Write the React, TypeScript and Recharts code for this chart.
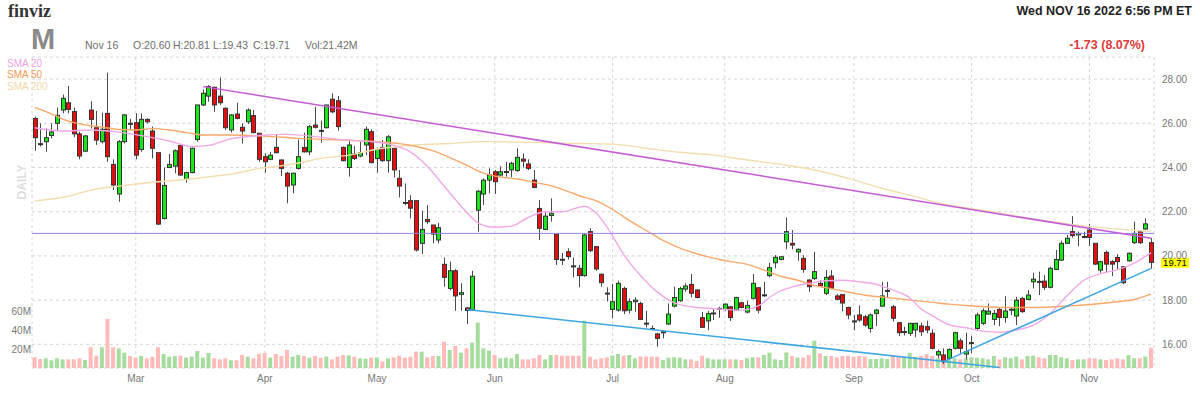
import React from "react";
import { ComposedChart, Bar, Line, XAxis, YAxis, CartesianGrid, ReferenceLine } from "recharts";

// trading days shown, Feb 2 .. Nov 16 2022
const monthDays: [string, number[]][] = [
  ["Feb", [2, 3, 4, 7, 8, 9, 10, 11, 14, 15, 16, 17, 18, 22, 23, 24, 25, 28]],
  ["Mar", [1, 2, 3, 4, 7, 8, 9, 10, 11, 14, 15, 16, 17, 18, 21, 22, 23, 24, 25, 28, 29, 30, 31]],
  ["Apr", [1, 4, 5, 6, 7, 8, 11, 12, 13, 14, 18, 19, 20, 21, 22, 25, 26, 27, 28, 29]],
  ["May", [2, 3, 4, 5, 6, 9, 10, 11, 12, 13, 16, 17, 18, 19, 20, 23, 24, 25, 26, 27, 31]],
  ["Jun", [1, 2, 3, 6, 7, 8, 9, 10, 13, 14, 15, 16, 17, 21, 22, 23, 24, 27, 28, 29, 30]],
  ["Jul", [1, 5, 6, 7, 8, 11, 12, 13, 14, 15, 18, 19, 20, 21, 22, 25, 26, 27, 28, 29]],
  ["Aug", [1, 2, 3, 4, 5, 8, 9, 10, 11, 12, 15, 16, 17, 18, 19, 22, 23, 24, 25, 26, 29, 30, 31]],
  ["Sep", [1, 2, 6, 7, 8, 9, 12, 13, 14, 15, 16, 19, 20, 21, 22, 23, 26, 27, 28, 29, 30]],
  ["Oct", [3, 4, 5, 6, 7, 10, 11, 12, 13, 14, 17, 18, 19, 20, 21, 24, 25, 26, 27, 28, 31]],
  ["Nov", [1, 2, 3, 4, 7, 8, 9, 10, 11, 14, 15, 16]],
];

const open = [
  26.22, 25.08, 25.17, 25.45, 26.0, 26.6, 26.93, 26.53, 25.52, 24.74, 26.6, 25.8, 25.17, 26.45, 24.14, 22.8, 25.17, 26.0,
  26.03, 24.82, 26.18, 25.65, 24.67, 21.69, 24.0, 24.06, 24.99, 23.46, 23.77, 25.27, 26.83, 27.23, 27.63, 27.23, 26.68, 25.7, 26.42, 25.82, 26.07, 26.35, 25.55,
  24.49, 24.37, 24.91, 24.34, 23.74, 23.21, 23.96, 24.91, 24.71, 25.92, 25.68, 25.8, 27.09, 27.02, 24.91, 24.0, 24.61, 24.52, 25.02, 25.62,
  24.41, 24.91, 24.31, 24.87, 23.51, 22.42, 22.5, 22.5, 20.57, 21.65, 21.4, 20.72, 19.62, 18.53, 19.33, 18.26, 17.65, 17.56, 22.07, 22.8, 23.43,
  23.81, 23.66, 23.8, 23.89, 23.86, 24.38, 24.16, 23.43, 22.15, 21.2, 21.83, 20.99, 19.85, 20.19, 19.55, 19.44, 19.11, 21.1, 20.42, 19.17, 18.32,
  17.58, 17.55, 18.53, 17.55, 17.93, 17.85, 16.96, 16.72, 16.47, 16.55, 16.92, 17.73, 17.97, 18.5, 18.71, 18.46, 17.21, 17.06, 17.4, 17.6,
  17.58, 17.7, 17.55, 17.88, 17.46, 18.08, 18.56, 18.22, 19.11, 19.69, 19.84, 20.64, 20.57, 20.18, 19.89, 18.91, 18.98, 18.76, 18.31, 19.09, 18.19, 18.25, 17.67,
  17.06, 17.33, 17.25, 16.72, 17.4, 17.73, 18.42, 17.7, 16.98, 16.55, 16.5, 16.65, 16.83, 16.8, 16.5, 15.52, 15.52, 15.37, 15.82, 16.16, 15.56,
  16.05, 16.72, 16.95, 17.37, 17.13, 17.58, 17.22, 17.57, 17.28, 18.08, 18.03, 18.83, 18.85, 18.86, 18.58, 19.39, 19.81, 20.57, 21.1, 20.95, 20.87,
  21.17, 20.57, 19.36, 20.16, 19.74, 19.93, 19.51, 19.78, 20.6, 21.1, 21.22, 20.6,
];
const high = [
  26.3, 26.0, 25.77, 26.0, 26.71, 27.3, 27.69, 26.71, 25.62, 25.47, 27.0, 26.56, 26.48, 28.29, 24.37, 25.24, 26.42, 26.2,
  26.45, 26.45, 26.22, 25.85, 24.67, 24.0, 24.61, 24.82, 25.06, 23.81, 24.91, 26.83, 27.54, 27.73, 27.66, 28.07, 26.72, 26.42, 26.93, 26.0, 26.68, 26.6, 25.55,
  24.64, 24.71, 25.52, 24.37, 23.81, 23.77, 25.27, 25.58, 25.92, 26.75, 26.12, 26.83, 27.36, 27.23, 24.95, 25.27, 24.97, 25.17, 25.85, 25.73,
  24.87, 25.24, 25.47, 24.91, 23.89, 23.28, 22.75, 22.5, 22.05, 22.3, 21.4, 21.5, 19.93, 19.74, 19.4, 18.76, 17.68, 19.33, 22.98, 23.51, 23.96,
  23.89, 24.06, 24.26, 24.26, 24.87, 24.64, 24.37, 23.89, 22.53, 22.0, 22.6, 21.02, 20.13, 20.34, 19.93, 19.59, 21.02, 21.25, 20.45, 19.21, 18.58,
  18.73, 18.88, 18.61, 18.08, 18.13, 17.93, 17.52, 16.85, 16.52, 16.63, 17.85, 18.61, 18.61, 18.76, 19.18, 18.49, 17.46, 17.52, 17.61, 17.7,
  17.85, 17.73, 18.15, 17.93, 17.97, 19.18, 18.58, 18.83, 19.69, 20.04, 19.99, 21.74, 21.17, 20.34, 20.04, 18.94, 20.19, 18.91, 19.36, 19.36, 18.28, 18.28, 17.7,
  17.33, 17.76, 17.33, 17.4, 17.61, 18.83, 18.83, 17.78, 17.01, 16.8, 16.98, 16.98, 16.98, 17.07, 16.68, 15.77, 15.82, 15.82, 16.57, 16.27, 16.53,
  16.38, 17.43, 17.63, 17.85, 17.55, 17.67, 18.18, 17.67, 18.15, 18.15, 18.46, 19.24, 19.29, 19.14, 19.51, 20.27, 20.69, 20.95, 21.8, 21.1, 21.1,
  21.45, 20.57, 19.78, 20.24, 19.81, 20.08, 19.54, 20.16, 21.55, 21.12, 21.7, 20.81,
];
const low = [
  24.76, 24.95, 24.71, 25.32, 25.67, 26.45, 26.45, 25.37, 24.37, 24.71, 25.77, 25.02, 25.09, 24.26, 22.98, 22.45, 25.09, 25.7,
  24.37, 24.71, 26.0, 24.41, 21.4, 21.65, 24.0, 23.74, 23.61, 23.31, 23.74, 25.17, 26.78, 26.98, 26.52, 26.83, 25.7, 25.58, 26.18, 25.09, 25.97, 25.55, 24.26,
  23.77, 24.34, 24.64, 23.61, 22.38, 22.83, 23.9, 24.68, 24.56, 25.77, 25.12, 25.77, 26.45, 25.67, 24.28, 23.59, 24.34, 24.46, 24.56, 24.19,
  23.77, 24.26, 23.77, 23.55, 22.65, 22.3, 21.7, 20.2, 20.09, 21.44, 20.57, 20.57, 18.61, 18.45, 17.52, 17.52, 16.92, 17.53, 21.1, 22.3, 22.83,
  22.8, 23.59, 23.59, 23.56, 23.81, 24.0, 23.88, 23.06, 20.72, 21.17, 21.55, 19.59, 19.59, 19.84, 19.03, 18.58, 19.06, 20.18, 19.33, 18.61, 17.94,
  17.18, 17.48, 17.37, 17.4, 17.48, 17.1, 16.77, 16.63, 15.89, 16.27, 16.87, 17.67, 17.93, 18.38, 18.12, 18.08, 16.75, 16.64, 17.1, 17.2,
  17.52, 17.06, 17.52, 17.63, 17.4, 18.03, 17.4, 18.15, 19.03, 19.44, 19.81, 20.3, 20.3, 19.78, 19.24, 18.38, 18.91, 18.61, 18.23, 18.49, 18.0, 17.49, 17.13,
  16.64, 17.03, 16.8, 16.53, 16.83, 17.7, 18.13, 17.03, 16.37, 16.4, 16.38, 16.32, 16.38, 16.5, 15.77, 15.37, 15.11, 15.32, 15.77, 15.59, 15.32,
  15.6, 16.62, 16.87, 17.33, 16.87, 16.82, 16.98, 17.33, 16.87, 17.43, 18.0, 18.53, 18.23, 18.46, 18.53, 19.36, 19.78, 20.54, 20.83, 20.44, 20.8,
  20.45, 19.59, 19.24, 19.24, 19.09, 19.36, 18.73, 19.74, 20.54, 20.54, 21.17, 19.43,
];
const close = [
  25.35, 25.05, 25.35, 25.61, 26.36, 27.13, 26.63, 25.52, 24.52, 25.43, 26.18, 25.24, 25.73, 24.49, 23.21, 25.17, 26.38, 25.98,
  24.56, 26.18, 26.07, 24.87, 21.44, 23.19, 24.14, 24.76, 23.66, 23.77, 24.87, 26.83, 27.36, 27.66, 26.83, 26.93, 25.8, 26.38, 26.22, 25.65, 26.6, 25.58, 24.37,
  24.26, 24.56, 24.67, 23.96, 23.16, 23.74, 24.49, 24.71, 25.85, 25.82, 25.67, 26.83, 26.52, 25.85, 24.31, 25.02, 24.41, 24.67, 25.73, 24.22,
  24.82, 24.31, 25.39, 23.89, 23.16, 22.4, 22.16, 20.27, 21.2, 21.55, 20.99, 21.28, 19.03, 19.33, 18.19, 18.34, 17.53, 19.08, 22.93, 23.43, 23.66,
  23.36, 23.81, 23.82, 24.19, 24.46, 24.29, 23.96, 23.1, 21.25, 21.8, 21.93, 19.84, 19.82, 19.97, 19.53, 19.11, 20.95, 20.24, 19.41, 18.79, 18.3,
  17.93, 18.76, 17.52, 17.93, 18.0, 17.13, 16.94, 16.7, 16.27, 16.57, 17.37, 18.12, 18.52, 18.64, 18.31, 18.12, 16.77, 17.39, 17.42, 17.63,
  17.82, 17.21, 18.12, 17.67, 17.76, 18.76, 17.55, 18.24, 19.47, 19.94, 19.96, 21.1, 20.49, 20.3, 19.39, 18.61, 19.29, 18.64, 19.03, 18.53, 18.04, 17.87, 17.33,
  17.04, 17.1, 16.87, 17.33, 17.55, 18.19, 18.44, 17.18, 16.53, 16.58, 16.95, 16.95, 16.57, 16.65, 15.82, 15.67, 15.21, 15.77, 16.53, 15.82, 15.67,
  16.08, 17.33, 17.52, 17.5, 17.4, 17.22, 17.51, 17.59, 18.0, 17.48, 18.23, 18.95, 18.83, 18.58, 19.44, 19.84, 20.57, 20.8, 20.92, 21.02, 20.88,
  20.84, 19.63, 19.74, 19.63, 19.63, 19.74, 18.79, 20.12, 21.02, 20.6, 21.45, 19.71,
];
// volume, millions of shares
const volume = [
  11.3, 9.5, 10.2, 8.1, 10.2, 9.1, 9.1, 9.1, 10.2, 8.4, 21.8, 13, 21.8, 51.7, 21.8, 20.7, 16.2, 12.7,
  10.9, 12.7, 10.2, 12, 21.8, 14.8, 12, 12.7, 13, 10.9, 12, 17.9, 10.9, 15.8, 10.2, 9.1, 10.2, 8.1, 8.1, 13.7, 12, 10.2, 14.8,
  15.8, 10.9, 14.8, 12.7, 19, 12, 13.7, 12.7, 10.9, 12.7, 10.9, 12, 9.1, 12, 13.7, 13.4, 12, 10.2, 9.8, 10.9,
  10.9, 7, 10.2, 11.3, 13, 10.9, 12, 17.2, 17.2, 11.3, 12.7, 12.7, 27.8, 19, 23.2, 16.2, 20.7, 26.7, 47.8, 20.7, 18.3,
  13.7, 10.2, 10.9, 10.2, 14.8, 9.1, 9.1, 10.2, 13.7, 9.1, 13.7, 13.7, 13, 13, 13, 13, 50, 12, 9.1, 10.2, 11.3,
  13, 14.8, 13, 13.7, 10.2, 12, 12, 12, 12, 8.4, 10.9, 11.3, 10.9, 9.1, 9.1, 7.4, 13, 10.2, 9.1, 9.1,
  9.1, 9.1, 9.1, 8.4, 10.2, 11.3, 11.3, 13.7, 16.2, 9.1, 8.4, 16.5, 12.7, 10.9, 10.9, 13.7, 28.8, 15.5, 12.7, 12.7, 11.3, 12.7, 13,
  12, 12.7, 12, 9.5, 9.5, 10.2, 9.5, 12.7, 11.3, 11.3, 16.2, 12, 12.7, 14.8, 12.7, 10.2, 11.3, 9.1, 10.2, 9.1, 10.2,
  11.3, 10.9, 10.2, 9.1, 12.7, 9.1, 11.3, 10.2, 12, 9.1, 12.7, 13, 11.3, 10.2, 13.7, 13.7, 11.3, 10.2, 8.4, 9.1, 9.1,
  10.2, 10.2, 9.1, 8.4, 9.1, 10.2, 9.1, 13.7, 10.2, 10.2, 12, 21.42,
];

// moving averages: [candle index, value]
const sma20: [number, number][] = [
  [0, 25.8], [5, 25.65], [10, 25.7], [15, 25.6], [20, 25.4], [24, 25.2], [28, 24.95], [31, 25.0], [35, 25.3], [40, 25.45],
  [45, 25.5], [50, 25.4], [55, 25.25], [60, 25.17], [64, 25.0], [67, 24.7], [70, 24.05], [73, 23.15], [76, 22.25], [79, 21.5],
  [82, 21.3], [85, 21.35], [88, 21.75], [91, 22.0], [94, 22.0], [97, 22.2], [98, 22.25], [100, 21.95], [102, 21.3], [105, 20.05],
  [108, 19.1], [111, 18.35], [114, 17.88], [117, 17.7], [120, 17.63], [123, 17.58], [126, 17.55], [129, 17.75], [132, 18.3],
  [135, 18.6], [138, 18.76], [141, 18.88], [144, 18.9], [147, 18.83], [150, 18.72], [153, 18.45], [156, 18.1], [158, 17.6],
  [160, 17.3], [163, 16.88], [166, 16.75], [169, 16.6], [172, 16.55], [175, 16.65], [178, 16.87], [181, 17.4], [184, 18.2],
  [187, 18.9], [190, 19.2], [193, 19.38], [196, 19.68], [199, 20.15],
];
const sma50: [number, number][] = [
  [0, 26.72], [3, 26.42], [6, 26.1], [9, 25.93], [12, 25.83], [15, 25.72], [18, 25.7], [21, 25.76], [24, 25.7], [27, 25.58],
  [30, 25.47], [35, 25.47], [41, 25.42], [47, 25.32], [52, 25.27], [57, 25.22], [62, 25.15], [65, 25.08], [68, 24.95], [71, 24.75],
  [74, 24.45], [77, 24.1], [80, 23.75], [83, 23.57], [86, 23.48], [89, 23.33], [92, 23.18], [95, 22.92], [98, 22.65], [100, 22.5],
  [103, 22.1], [106, 21.6], [109, 21.15], [112, 20.7], [115, 20.35], [118, 20.1], [121, 19.9], [124, 19.74], [127, 19.62],
  [130, 19.36], [133, 19.08], [136, 18.9], [139, 18.66], [142, 18.52], [145, 18.37], [148, 18.22], [151, 18.14], [154, 18.06],
  [157, 17.98], [160, 17.9], [163, 17.82], [166, 17.76], [172, 17.67], [178, 17.67], [184, 17.73], [187, 17.78], [190, 17.85],
  [193, 17.93], [196, 18.03], [199, 18.27],
];
const sma200: [number, number][] = [
  [0, 22.49], [6, 22.7], [10, 22.98], [15, 23.16], [19, 23.28], [24, 23.4], [27, 23.46], [32, 23.61], [35, 23.7], [40, 23.96],
  [44, 24.08], [48, 24.25], [50, 24.37], [56, 24.56], [62, 24.87], [68, 25.02], [74, 25.09], [80, 25.17], [86, 25.15], [92, 25.12],
  [97, 25.09], [103, 25.06], [109, 24.87], [115, 24.69], [121, 24.56], [127, 24.34], [133, 24.14], [139, 23.89], [145, 23.51],
  [151, 23.06], [157, 22.68], [161, 22.41], [170, 22.02], [180, 21.6], [190, 21.28], [195, 21.18], [199, 21.1],
];

// drawn trend lines: [candle index, price] pairs
const trendLines: { from: [number, number]; to: [number, number]; color: string }[] = [
  { from: [30, 27.66], to: [199, 20.8], color: "#c65bd6" },
  { from: [77, 17.58], to: [172, 14.95], color: "#3ea6e3" },
  { from: [162, 15.22], to: [199, 19.44], color: "#3ea6e3" },
];
const levelLine = 21.02;
const lastPrice = 19.71;
const priceTicks = [16, 18, 20, 22, 24, 26, 28];
const volTicks = [20, 40, 60];

const FONT = "'Liberation Sans', Arial, sans-serif";

const dates = monthDays.flatMap(([m, ds]) => ds.map((d) => `${m} ${d}`));
const monthStarts = monthDays.slice(1).map(([m, ds]) => `${m} ${ds[0]}`);
const m20 = new Map(sma20);
const m50 = new Map(sma50);
const m200 = new Map(sma200);

const data = dates.map((d, i) => ({
  d,
  o: open[i],
  h: high[i],
  l: low[i],
  c: close[i],
  range: [low[i], high[i]],
  v: volume[i],
  s20: m20.get(i) ?? null,
  s50: m50.get(i) ?? null,
  s200: m200.get(i) ?? null,
}));

function Candle(props: any) {
  const { x, y, width, height, payload } = props;
  if (x == null || !payload) return null;
  const top = Math.min(y, y + height);
  const span = Math.abs(height);
  const { o, h, l, c } = payload;
  const py = (v: number) => top + ((h - v) / (h - l || 1)) * span;
  const cx = Math.round(x + width / 2) + 0.5;
  const bTop = py(Math.max(o, c));
  const bBot = py(Math.min(o, c));
  return (
    <g>
      <line x1={cx} x2={cx} y1={top} y2={top + span} stroke="#4a4a4a" strokeWidth={1} />
      <rect
        x={cx - 2}
        y={bTop}
        width={4}
        height={Math.max(bBot - bTop, 1)}
        fill={c >= o ? "#19e619" : "#ea0d0d"}
        stroke="#333"
        strokeWidth={1}
      />
    </g>
  );
}

function VolBar(props: any) {
  const { x, y, width, height, payload } = props;
  if (x == null || !payload) return null;
  return <rect x={x} y={y} width={width} height={height} fill={payload.c >= payload.o ? "#a6dc9e" : "#ffbaba"} />;
}

function MonthTick(props: any) {
  const { x, payload } = props;
  return (
    <text x={x} y={382} textAnchor="middle" fontSize={10} fill="#777" fontFamily={FONT}>
      {String(payload.value).split(" ")[0]}
    </text>
  );
}

function PriceTag(props: any) {
  const vb = props.viewBox;
  if (!vb) return null;
  const x = vb.x + vb.width + 7;
  return (
    <g>
      <rect x={x} y={vb.y - 4.5} width={28} height={10} fill="#ffff00" />
      <text x={x + 14} y={vb.y + 3.8} textAnchor="middle" fontSize={9.5} fontFamily={FONT} fill="#000">
        {lastPrice.toFixed(2)}
      </text>
    </g>
  );
}

export default function App() {
  const tick = { fontSize: 10, fill: "#777", fontFamily: FONT };
  return (
    <div style={{ position: "absolute", left: 0, top: 0, width: 1200, height: 395, background: "#fff" }}>
      <ComposedChart width={1200} height={395} data={data} margin={{ top: 57, right: 0, bottom: 0, left: 0 }} barCategoryGap="10%">
        <CartesianGrid xAxisId="x" yAxisId="p" stroke="#d6d6d6" strokeDasharray="3 3" />
        <XAxis
          xAxisId="x"
          dataKey="d"
          ticks={monthStarts}
          interval={0}
          tickLine={false}
          axisLine={false}
          height={27}
          tick={<MonthTick />}
        />
        <XAxis xAxisId="vx" dataKey="d" hide />
        <YAxis
          yAxisId="v"
          orientation="left"
          width={32}
          domain={[0, 328]}
          allowDataOverflow
          ticks={volTicks}
          tickFormatter={(v: number) => `${v}M`}
          tickLine={false}
          axisLine={false}
          tickSize={0}
          tickMargin={1}
          tick={tick}
        />
        <YAxis
          yAxisId="p"
          orientation="right"
          width={46}
          domain={[14.93, 29]}
          allowDataOverflow
          ticks={priceTicks}
          tickFormatter={(v: number) => v.toFixed(2)}
          tickLine={false}
          axisLine={false}
          tickSize={0}
          tickMargin={8}
          tick={tick}
        />
        <Bar xAxisId="vx" yAxisId="v" dataKey="v" shape={VolBar} isAnimationActive={false} />
        <Line xAxisId="x" yAxisId="p" dataKey="s200" type="monotone" stroke="#f3dcae" strokeWidth={1.4} dot={false} connectNulls isAnimationActive={false} />
        <Line xAxisId="x" yAxisId="p" dataKey="s50" type="monotone" stroke="#f9a86a" strokeWidth={1.4} dot={false} connectNulls isAnimationActive={false} />
        <Line xAxisId="x" yAxisId="p" dataKey="s20" type="monotone" stroke="#f2a8e8" strokeWidth={1.4} dot={false} connectNulls isAnimationActive={false} />
        <ReferenceLine xAxisId="x" yAxisId="p" y={levelLine} stroke="#8f86e8" strokeWidth={1} />
        {trendLines.map((t, i) => (
          <ReferenceLine
            key={i}
            xAxisId="x"
            yAxisId="p"
            segment={[
              { x: dates[t.from[0]], y: t.from[1] },
              { x: dates[t.to[0]], y: t.to[1] },
            ]}
            stroke={t.color}
            strokeWidth={1.5}
          />
        ))}
        <Bar xAxisId="x" yAxisId="p" dataKey="range" shape={Candle} isAnimationActive={false} />
        <ReferenceLine xAxisId="x" yAxisId="p" y={lastPrice} stroke="none" label={<PriceTag />} />
      </ComposedChart>
      <svg width={1200} height={395} style={{ position: "absolute", left: 0, top: 0, pointerEvents: "none" }}>
        <text x={8} y={17} fontSize={18} fontWeight="bold" fontFamily="'Liberation Serif', serif" fill="#333">finviz</text>
        <text x={31} y={49} fontSize={29} fontWeight="bold" fontFamily={FONT} fill="#8a8a8a">M</text>
        <g fontSize={10.5} fontFamily={FONT} fill="#6e6e6e">
          <text x={85} y={48.8}>Nov 16</text>
          <text x={133} y={48.8}>O:20.60</text>
          <text x={173} y={48.8}>H:20.81</text>
          <text x={213} y={48.8}>L:19.43</text>
          <text x={253} y={48.8}>C:19.71</text>
          <text x={305} y={48.8}>Vol:21.42M</text>
        </g>
        <g fontSize={10} fontFamily={FONT}>
          <text x={7} y={66.6} fill="#f0a2e6">SMA 20</text>
          <text x={7} y={78.1} fill="#f99c55">SMA 50</text>
          <text x={7} y={90.1} fill="#f0d8a8">SMA 200</text>
        </g>
        <text x={1192} y={14.5} textAnchor="end" fontSize={12.5} fontWeight="bold" fontFamily={FONT} fill="#222">
          Wed NOV 16 2022 6:56 PM ET
        </text>
        <text x={1145} y={48.5} textAnchor="end" fontSize={12.5} fontWeight="bold" fontFamily={FONT} fill="#e03a3a">
          -1.73 (8.07%)
        </text>
        <text
          x={22}
          y={186.3}
          textAnchor="middle"
          fontSize={12}
          fontWeight="bold"
          fontFamily={FONT}
          fill="#dedede"
          transform="rotate(-90, 22, 182)"
        >
          DAILY
        </text>
      </svg>
    </div>
  );
}
